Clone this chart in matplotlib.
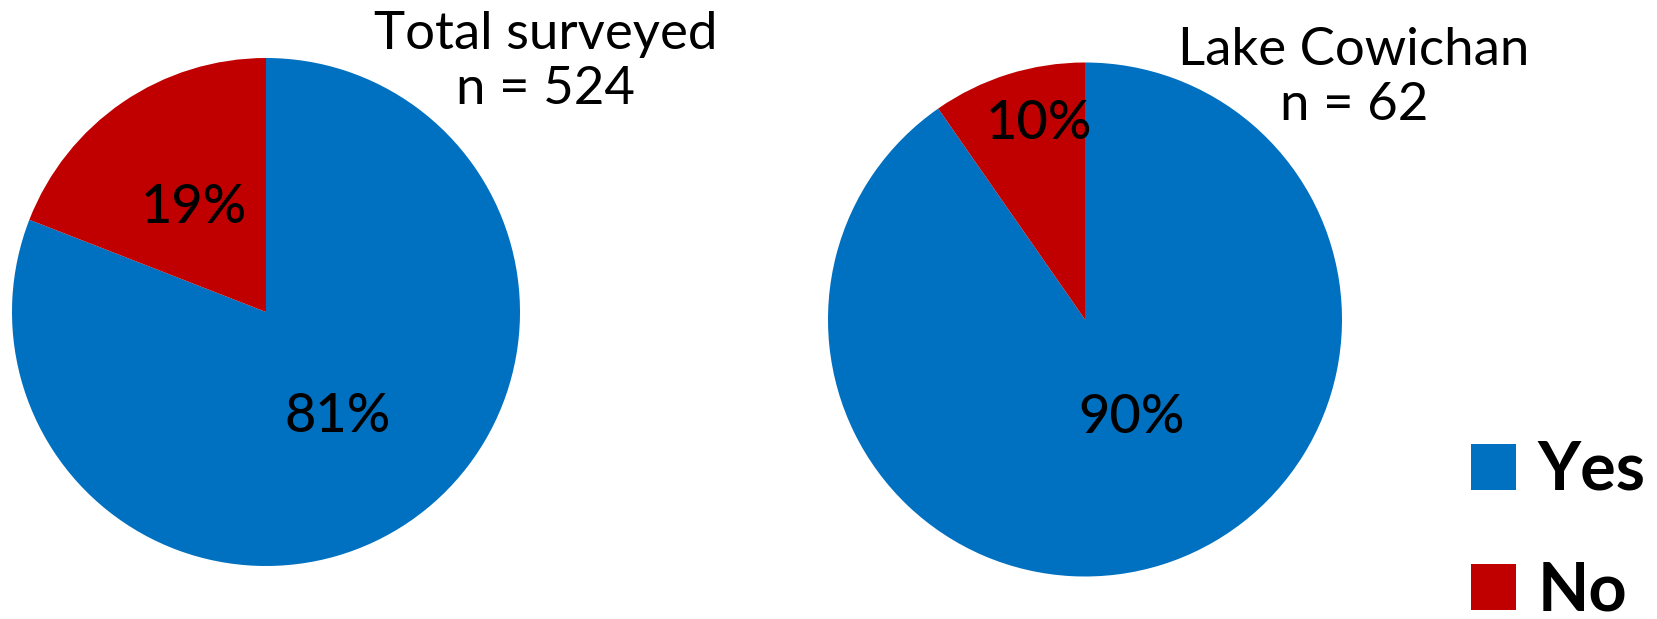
import numpy as np
import matplotlib
matplotlib.use('Agg')
import matplotlib.pyplot as plt

# survey answers (counts) for each group
labels = ['Yes', 'No']
total_counts = [424, 100]
cowichan_counts = [56, 6]
titles = ['Total surveyed\nn = 524', 'Lake Cowichan\nn = 62']

colors = ['#0070C0', '#C00000']

W, H = 1657, 619
plt.rcParams['font.family'] = ['Lato', 'DejaVu Sans']


def px_axes(fig, cx, cy, r):
    # square axes for a pie centred at pixel (cx, cy) with radius r
    return fig.add_axes([(cx - r) / W, (H - cy - r) / H, 2 * r / W, 2 * r / H])


def draw_pie(ax, counts, dists, xshift=0.0):
    wedges, _, autotexts = ax.pie(counts, colors=colors, startangle=90,
                                  counterclock=False, autopct='%1.0f%%',
                                  wedgeprops=dict(linewidth=0),
                                  textprops=dict(fontsize=39, weight=500, color='black'))
    # put the % labels along the middle of each wedge
    for w, t, d in zip(wedges, autotexts, dists):
        ang = np.deg2rad((w.theta1 + w.theta2) / 2)
        t.set_position((d * np.cos(ang) + xshift, d * np.sin(ang)))
    ax.set_xlim(-1, 1)
    ax.set_ylim(-1, 1)
    ax.set_aspect('equal')
    ax.axis('off')
    return wedges


fig = plt.figure(figsize=(W / 100, H / 100), dpi=100)

ax1 = px_axes(fig, 266, 312, 254)
wedges = draw_pie(ax1, total_counts, [0.5, 0.5])

ax2 = px_axes(fig, 1085, 319.5, 257)
draw_pie(ax2, cowichan_counts, [0.4, 0.8], xshift=0.06)

fig.text(546 / W, 1 - 104 / H, titles[0], ha='center', va='baseline',
         fontsize=38, linespacing=1.2, multialignment='center')
fig.text(1354 / W, 1 - 120 / H, titles[1], ha='center', va='baseline',
         fontsize=38, linespacing=1.2, multialignment='center')

fig.legend(wedges, labels, loc='upper left', bbox_to_anchor=(1471 / W, 1 - 440 / H),
           frameon=False, prop=dict(size=48, weight='bold'),
           handlelength=0.68, handleheight=0.68, handletextpad=0.32,
           labelspacing=0.88, borderpad=0, borderaxespad=0)

plt.savefig('out.png', dpi=100)
